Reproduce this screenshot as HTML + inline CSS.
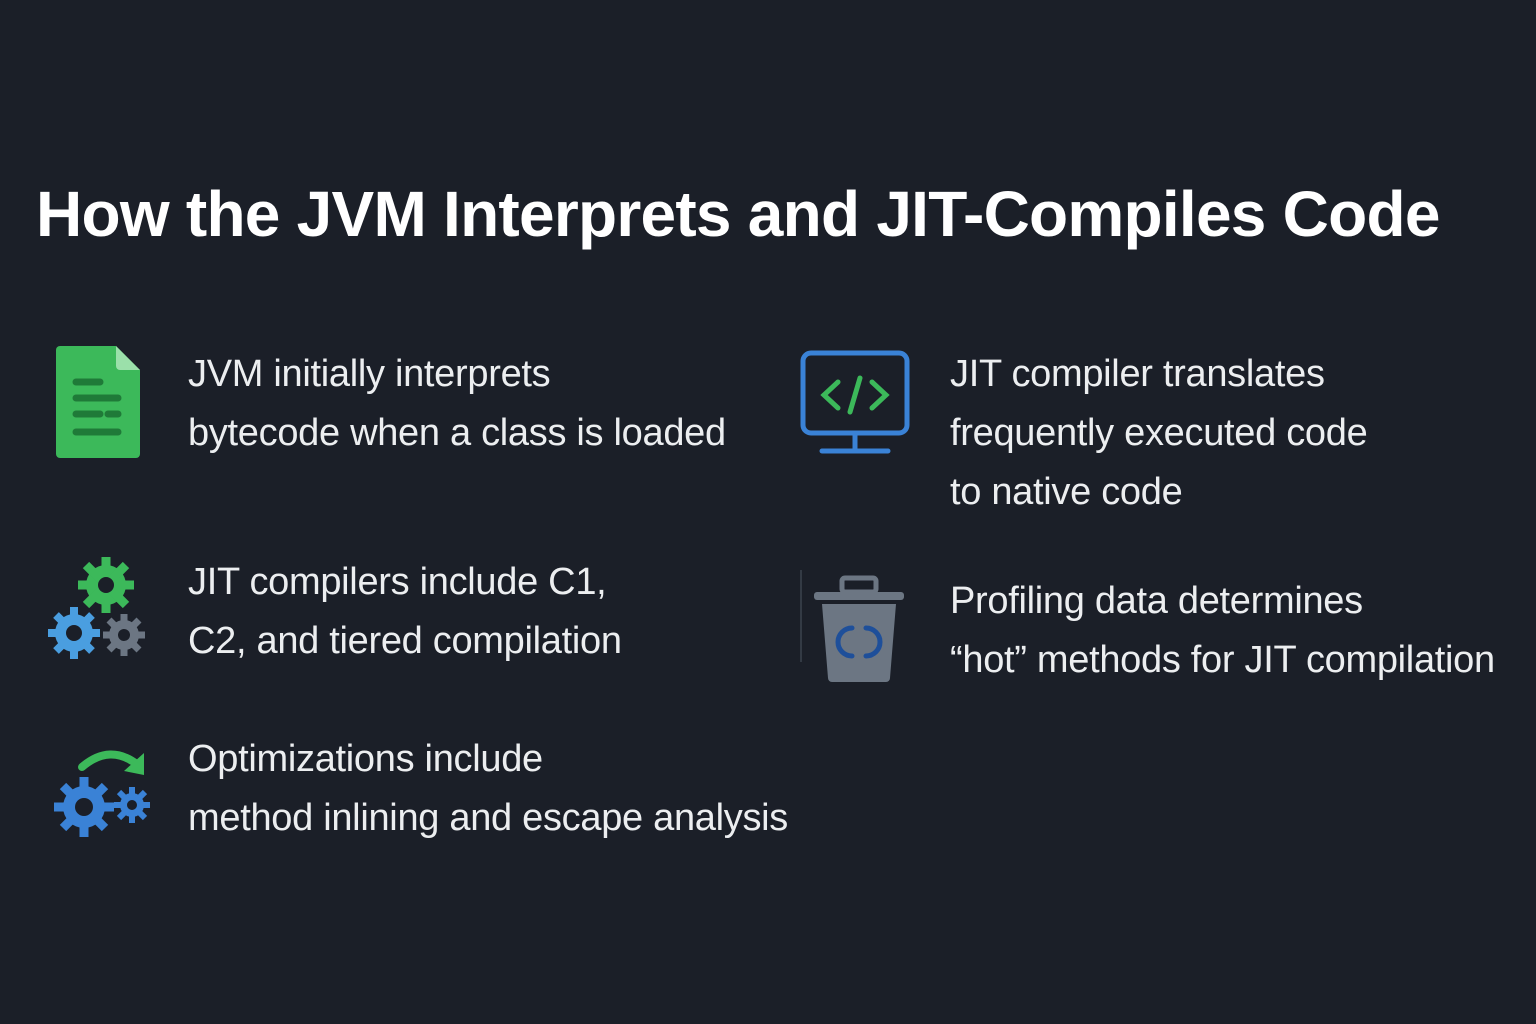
<!DOCTYPE html>
<html><head><meta charset="utf-8"><style>
html,body{margin:0;padding:0;}
body{width:1536px;height:1024px;background:#1b1f28;position:relative;overflow:hidden;font-family:"Liberation Sans",sans-serif;color:#eceef0;}
.t{position:absolute;left:36px;top:177px;font-size:64px;font-weight:bold;color:#fff;white-space:nowrap;letter-spacing:-0.75px;}
.p{position:absolute;font-size:38px;line-height:59px;white-space:nowrap;letter-spacing:-0.3px;}
svg{position:absolute;}
</style></head><body>
<div class="t">How the JVM Interprets and JIT-Compiles Code</div>

<svg style="left:56px;top:346px" width="86" height="112" viewBox="0 0 86 112">
<path d="M4 0H60L84 24V108a4 4 0 0 1-4 4H4a4 4 0 0 1-4-4V4a4 4 0 0 1 4-4z" fill="#3cb95a"/>
<path d="M60 0L84 24H64a4 4 0 0 1-4-4z" fill="#9be0aa"/>
<g stroke="#1f7a38" stroke-width="7" stroke-linecap="round">
<line x1="20" y1="36" x2="44" y2="36"/><line x1="20" y1="52" x2="62" y2="52"/><line x1="20" y1="68" x2="44" y2="68"/><line x1="52" y1="68" x2="62" y2="68"/><line x1="20" y1="86" x2="62" y2="86"/></g>
</svg>
<div class="p" style="left:188px;top:345px">JVM initially interprets<br>bytecode when a class is loaded</div>

<svg style="left:800px;top:350px" width="112" height="106" viewBox="0 0 112 106">
<rect x="3" y="3" width="104" height="80" rx="8" fill="none" stroke="#3a82d6" stroke-width="5"/>
<line x1="55" y1="84" x2="55" y2="100" stroke="#3a82d6" stroke-width="5"/>
<line x1="22" y1="101" x2="88" y2="101" stroke="#3a82d6" stroke-width="5" stroke-linecap="round"/>
<g stroke="#3cb95a" stroke-width="5" fill="none" stroke-linecap="round"><path d="M38 32L24 45L38 58"/><path d="M72 32L86 45L72 58"/><path d="M60 28L50 62"/></g>
</svg>
<div class="p" style="left:950px;top:345px">JIT compiler translates<br>frequently executed code<br>to native code</div>

<svg style="left:46px;top:555px" width="104" height="106" viewBox="0 0 104 106">
<g fill="#3cb95a"><circle cx="60" cy="30" r="20"/><g stroke="#3cb95a" stroke-width="9"><line x1="60" y1="2" x2="60" y2="58"/><line x1="32" y1="30" x2="88" y2="30"/><line x1="40" y1="10" x2="80" y2="50"/><line x1="80" y1="10" x2="40" y2="50"/></g><circle cx="60" cy="30" r="8" fill="#1b1f28"/></g>
<g><circle cx="28" cy="78" r="19" fill="#4a9ee0"/><g stroke="#4a9ee0" stroke-width="8"><line x1="28" y1="52" x2="28" y2="104"/><line x1="2" y1="78" x2="54" y2="78"/><line x1="10" y1="60" x2="46" y2="96"/><line x1="46" y1="60" x2="10" y2="96"/></g><circle cx="28" cy="78" r="8" fill="#1b1f28"/></g>
<g><circle cx="78" cy="80" r="15" fill="#6c7683"/><g stroke="#6c7683" stroke-width="7"><line x1="78" y1="59" x2="78" y2="101"/><line x1="57" y1="80" x2="99" y2="80"/><line x1="63" y1="65" x2="93" y2="95"/><line x1="93" y1="65" x2="63" y2="95"/></g><circle cx="78" cy="80" r="6" fill="#1b1f28"/></g>
</svg>
<div class="p" style="left:188px;top:553px">JIT compilers include C1,<br>C2, and tiered compilation</div>

<svg style="left:800px;top:570px" width="108" height="114" viewBox="0 0 108 114">
<line x1="1" y1="0" x2="1" y2="92" stroke="#333a44" stroke-width="2"/>
<rect x="42" y="8" width="34" height="14" rx="3" fill="none" stroke="#6c7683" stroke-width="5"/>
<rect x="14" y="22" width="90" height="8" rx="3" fill="#6c7683"/>
<path d="M22 34H96L90 108a4 4 0 0 1-4 4H32a4 4 0 0 1-4-4z" fill="#6c7683"/>
<path d="M52 58a14 14 0 0 0 0 28M66 58a14 14 0 0 1 0 28" fill="none" stroke="#1e4f9a" stroke-width="5" stroke-linecap="round"/>
</svg>
<div class="p" style="left:950px;top:572px">Profiling data determines<br>“hot” methods for JIT compilation</div>

<svg style="left:52px;top:745px" width="100" height="94" viewBox="0 0 100 94">
<path d="M30 22Q58 -2 86 20" fill="none" stroke="#3cb95a" stroke-width="8" stroke-linecap="round"/>
<path d="M92 8L92 30L72 26z" fill="#3cb95a"/>
<g><circle cx="32" cy="62" r="21" fill="#3a82d6"/><g stroke="#3a82d6" stroke-width="9"><line x1="32" y1="32" x2="32" y2="92"/><line x1="2" y1="62" x2="62" y2="62"/><line x1="11" y1="41" x2="53" y2="83"/><line x1="53" y1="41" x2="11" y2="83"/></g><circle cx="32" cy="62" r="9" fill="#1b1f28"/></g>
<g><circle cx="80" cy="60" r="12" fill="#3a82d6"/><g stroke="#3a82d6" stroke-width="6"><line x1="80" y1="42" x2="80" y2="78"/><line x1="62" y1="60" x2="98" y2="60"/><line x1="67" y1="47" x2="93" y2="73"/><line x1="93" y1="47" x2="67" y2="73"/></g><circle cx="80" cy="60" r="5" fill="#1b1f28"/></g>
</svg>
<div class="p" style="left:188px;top:730px">Optimizations include<br>method inlining and escape analysis</div>
</body></html>
